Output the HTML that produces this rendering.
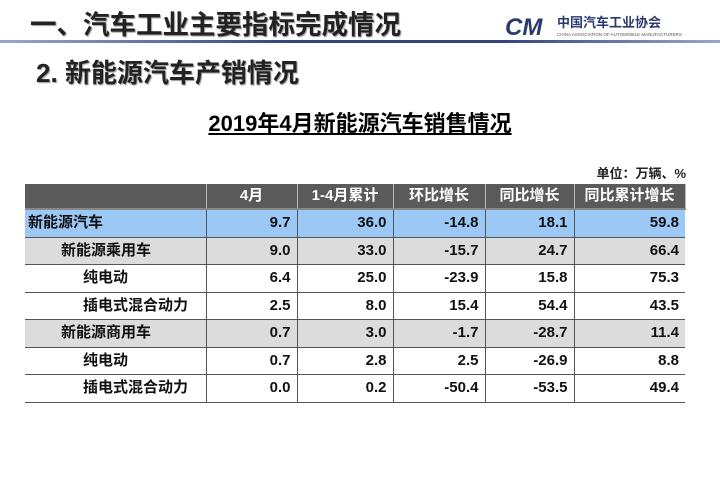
<!DOCTYPE html>
<html><head><meta charset="utf-8"><style>
body{margin:0;width:720px;height:498px;background:#fff;position:relative;overflow:hidden;font-family:"Liberation Sans","Noto Sans CJK SC",sans-serif;}
.abs{position:absolute;}
#h1{left:30px;top:3px;font-size:26.5px;font-weight:bold;color:#222;text-shadow:1px 1px 1px #999;}
#rule{left:0;top:40px;width:720px;height:3px;background:linear-gradient(90deg,#9aa8c8,#33457a 40%,#33457a 70%,#9aa8c8);}
#h2{left:36px;top:53px;font-size:26px;font-weight:bold;color:#222;text-shadow:1px 1px 1px #999;}
#logo{left:505px;top:13px;}
#title{left:0;width:720px;top:106px;text-align:center;font-size:22px;font-weight:bold;}
#title span{text-decoration:underline;}
#unit{right:34px;top:163px;font-size:13px;font-weight:bold;color:#222;}
table{position:absolute;left:25px;top:184px;border-collapse:collapse;font-size:15px;font-weight:bold;line-height:18px;}
td{height:26.5px;padding:0 6px;border-bottom:1.5px solid #555;border-right:1.5px solid #555;text-align:right;color:#111;}
td:last-child{border-right:none;}
td.n{text-align:left;}
tr.hd td{background:#5a5a5a;color:#fff;text-align:center;height:24px;border-right:1.5px solid #bbb;border-bottom:2px solid #888;}
tr.blue td{background:#9cc8f5;}
tr.gray td{background:#dcdcdc;}
</style></head><body>
<div id="h1" class="abs">一、汽车工业主要指标完成情况</div>
<div id="rule" class="abs"></div>
<div id="logo" class="abs">
<svg width="190" height="26"><text x="0" y="22" font-family="Liberation Sans" font-style="italic" font-weight="bold" font-size="24" fill="#2b3a6e">CM</text>
<text x="52" y="14" font-family="Noto Sans CJK SC" font-weight="bold" font-size="13" fill="#2b3a6e">中国汽车工业协会</text>
<text x="52" y="23" font-family="Liberation Sans" font-size="4.5" fill="#555">CHINA ASSOCIATION OF AUTOMOBILE MANUFACTURERS</text></svg></div>
<div id="h2" class="abs">2. 新能源汽车产销情况</div>
<div id="title" class="abs"><span>2019年4月新能源汽车销售情况</span></div>
<div id="unit" class="abs">单位：万辆、%</div>
<table>
<colgroup><col style="width:181px"><col style="width:91px"><col style="width:96px"><col style="width:92px"><col style="width:89px"><col style="width:111px"></colgroup>
<tr class="hd"><td></td><td>4月</td><td>1-4月累计</td><td>环比增长</td><td>同比增长</td><td>同比累计增长</td></tr>
<tr class="blue"><td class="n" style="padding-left:3px">新能源汽车</td><td>9.7</td><td>36.0</td><td>-14.8</td><td>18.1</td><td>59.8</td></tr>
<tr class="gray"><td class="n" style="padding-left:36px">新能源乘用车</td><td>9.0</td><td>33.0</td><td>-15.7</td><td>24.7</td><td>66.4</td></tr>
<tr><td class="n" style="padding-left:58px">纯电动</td><td>6.4</td><td>25.0</td><td>-23.9</td><td>15.8</td><td>75.3</td></tr>
<tr><td class="n" style="padding-left:58px">插电式混合动力</td><td>2.5</td><td>8.0</td><td>15.4</td><td>54.4</td><td>43.5</td></tr>
<tr class="gray"><td class="n" style="padding-left:36px">新能源商用车</td><td>0.7</td><td>3.0</td><td>-1.7</td><td>-28.7</td><td>11.4</td></tr>
<tr><td class="n" style="padding-left:58px">纯电动</td><td>0.7</td><td>2.8</td><td>2.5</td><td>-26.9</td><td>8.8</td></tr>
<tr><td class="n" style="padding-left:58px">插电式混合动力</td><td>0.0</td><td>0.2</td><td>-50.4</td><td>-53.5</td><td>49.4</td></tr>
</table>
</body></html>
